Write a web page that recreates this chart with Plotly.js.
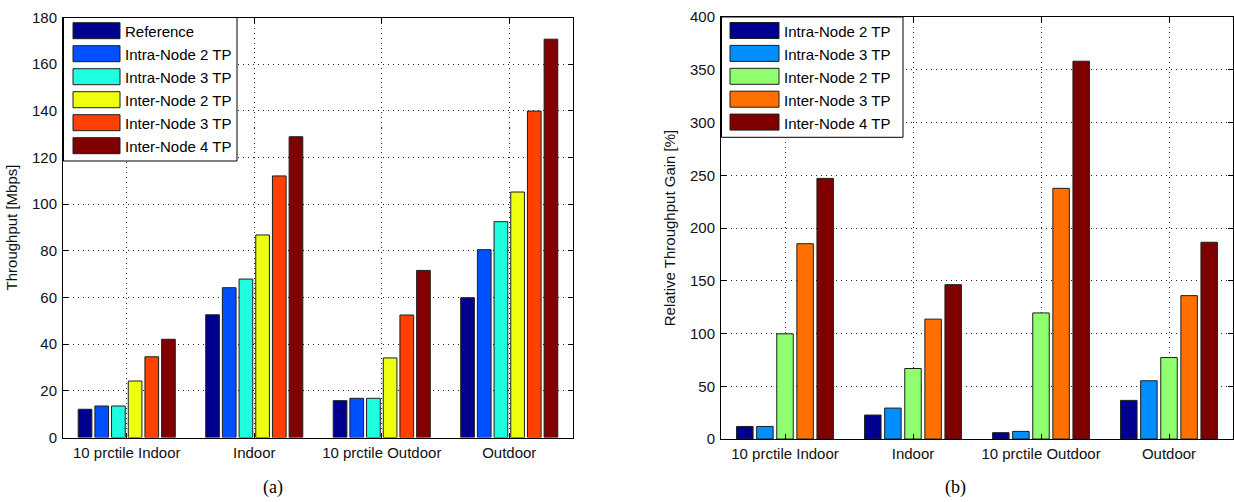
<!DOCTYPE html>
<html>
<head>
<meta charset="utf-8">
<script src="https://cdn.plot.ly/plotly-3.0.1.min.js"></script>
<style>html,body{margin:0;padding:0;background:#fff;}#chart{width:1234px;height:502px;}</style>
</head>
<body>
<div id="chart"></div>
<script>
// ---------- data ----------
var categories = ['10 prctile Indoor', 'Indoor', '10 prctile Outdoor', 'Outdoor'];

// (a) Throughput [Mbps]
var thrNames = ['Reference', 'Intra-Node 2 TP', 'Intra-Node 3 TP', 'Inter-Node 2 TP', 'Inter-Node 3 TP', 'Inter-Node 4 TP'];
var thrColors = ['#00008F', '#0050FF', '#1FFFDF', '#EFFF10', '#FF4000', '#800000'];
var thrReference = [12.1, 52.6, 15.8, 59.9];
var thrIntra2 = [13.5, 64.2, 16.8, 80.5];
var thrIntra3 = [13.5, 67.9, 16.8, 92.5];
var thrInter2 = [24.2, 86.8, 34.1, 105.2];
var thrInter3 = [34.6, 112.1, 52.5, 139.9];
var thrInter4 = [42.1, 128.9, 71.6, 170.7];

// (b) Relative Throughput Gain [%]
var gainNames = ['Intra-Node 2 TP', 'Intra-Node 3 TP', 'Inter-Node 2 TP', 'Inter-Node 3 TP', 'Inter-Node 4 TP'];
var gainColors = ['#000090', '#008FFF', '#8FFF70', '#FF7000', '#800000'];
var gainIntra2 = [11.9, 22.7, 6.0, 36.6];
var gainIntra3 = [11.9, 29.3, 7.2, 55.2];
var gainInter2 = [99.7, 66.8, 119.5, 77.2];
var gainInter3 = [185.1, 113.6, 237.6, 135.9];
var gainInter4 = [247.0, 146.3, 358.1, 186.5];

var leftTicks = [0, 20, 40, 60, 80, 100, 120, 140, 160, 180];
var rightTicks = [0, 50, 100, 150, 200, 250, 300, 350, 400];

// ---------- figure geometry ----------
var W = 1234, H = 502, ML = 63, MR = 1, MT = 17, MB = 63;
function px2x(px) { return (px - ML) / (W - ML - MR); }
function py2y(py) { return (H - MB - py) / (H - MT - MB); }

// pick a condensed face if it is installed, otherwise regular Liberation Sans
function hasFont(name) {
  var c = document.createElement('canvas').getContext('2d');
  c.font = '40px monospace';
  var a = c.measureText('10 prctile Indoor WMmi').width;
  c.font = '40px "' + name + '", monospace';
  var b = c.measureText('10 prctile Indoor WMmi').width;
  return Math.abs(a - b) > 0.5;
}
var NARROW = hasFont('Liberation Sans Narrow');
var FONT = NARROW ? '"Liberation Sans Narrow", Arial Narrow, sans-serif' : 'Liberation Sans, Arial, sans-serif';
var FS = NARROW ? 17 : 15;
var EDGE = 'rgb(30,30,30)';

var thrSeries = [thrReference, thrIntra2, thrIntra3, thrInter2, thrInter3, thrInter4];
var gainSeries = [gainIntra2, gainIntra3, gainInter2, gainInter3, gainInter4];

var traces = [];
thrSeries.forEach(function (vals, i) {
  traces.push({
    type: 'bar', x: categories, y: vals, name: thrNames[i], xaxis: 'x', yaxis: 'y',
    marker: { color: thrColors[i], line: { color: EDGE, width: 1 } },
    showlegend: false, hoverinfo: 'y+name'
  });
});
gainSeries.forEach(function (vals, i) {
  traces.push({
    type: 'bar', x: categories, y: vals, name: gainNames[i], xaxis: 'x2', yaxis: 'y2',
    marker: { color: gainColors[i], line: { color: EDGE, width: 1 } },
    showlegend: false, hoverinfo: 'y+name'
  });
});

// ---------- custom legends (wide swatches like the original) ----------
var shapes = [], annotations = [];
function buildLegend(names, colors, box, swX0, swX1, textX, firstCenter, pitch) {
  shapes.push({
    type: 'rect', xref: 'paper', yref: 'paper', layer: 'above',
    x0: px2x(box[0]), x1: px2x(box[1]), y0: py2y(box[3]), y1: py2y(box[2]),
    fillcolor: '#fff', line: { color: '#000', width: 1 }
  });
  names.forEach(function (n, i) {
    var c = firstCenter + i * pitch;
    shapes.push({
      type: 'rect', xref: 'paper', yref: 'paper', layer: 'above',
      x0: px2x(swX0), x1: px2x(swX1), y0: py2y(c + 8), y1: py2y(c - 8),
      fillcolor: colors[i], line: { color: EDGE, width: 1 }
    });
    annotations.push({
      xref: 'paper', yref: 'paper', x: px2x(textX), y: py2y(c + 1),
      xanchor: 'left', yanchor: 'middle', showarrow: false, text: n,
      font: { family: FONT, size: FS, color: '#000' }
    });
  });
}
buildLegend(thrNames, thrColors, [63.5, 237, 17.5, 161], 73, 120, 123, 30.7, 23);
buildLegend(gainNames, gainColors, [721.5, 903, 17, 137.3], 730, 779, 782, 30.5, 22.9);

annotations.push({
  xref: 'paper', yref: 'paper', x: px2x(273), y: py2y(487), xanchor: 'center', yanchor: 'middle',
  showarrow: false, text: '(a)', font: { family: 'Liberation Serif, Times New Roman, serif', size: 18, color: '#000' }
});
annotations.push({
  xref: 'paper', yref: 'paper', x: px2x(955), y: py2y(487), xanchor: 'center', yanchor: 'middle',
  showarrow: false, text: '(b)', font: { family: 'Liberation Serif, Times New Roman, serif', size: 18, color: '#000' }
});

var gridDash = '1px,4px';
function xAxis(domain, anchor) {
  return {
    domain: domain, anchor: anchor, type: 'category', categoryorder: 'array', categoryarray: categories,
    range: [-0.5, 3.5], showline: true, linecolor: '#000', linewidth: 1, mirror: 'ticks',
    ticks: 'inside', ticklen: 5, tickcolor: '#000', showgrid: true, gridcolor: '#222', griddash: gridDash,
    gridwidth: 1, tickfont: { family: FONT, size: FS, color: '#111' }, ticklabelstandoff: 1,
    zeroline: false, automargin: false, fixedrange: true
  };
}
function yAxis(domain, anchor, range, ticks, title) {
  return {
    domain: domain, anchor: anchor, range: range, tickvals: ticks, ticktext: ticks.map(String),
    showline: true, linecolor: '#000', linewidth: 1, mirror: 'ticks',
    ticks: 'inside', ticklen: 5, tickcolor: '#000', showgrid: true, gridcolor: '#222', griddash: gridDash,
    gridwidth: 1, tickfont: { family: FONT, size: FS, color: '#111' }, ticklabelstandoff: 2,
    zeroline: false, automargin: false, fixedrange: true,
    title: { text: title, font: { family: FONT, size: FS, color: '#111' }, standoff: 10 }
  };
}

var layout = {
  width: W, height: H, margin: { l: ML, r: MR, t: MT, b: MB, pad: 0 },
  paper_bgcolor: '#fff', plot_bgcolor: '#fff', barmode: 'group', bargap: 0.215, bargroupgap: 0.18,
  showlegend: false,
  xaxis: xAxis([0, px2x(573)], 'y'),
  yaxis: yAxis([py2y(437.5), py2y(17.5)], 'x', [0, 180], leftTicks, 'Throughput [Mbps]'),
  xaxis2: xAxis([px2x(721), 1], 'y2'),
  yaxis2: yAxis([0, 1], 'x2', [0, 400], rightTicks, 'Relative Throughput Gain [%]'),
  shapes: shapes, annotations: annotations
};

Plotly.newPlot('chart', traces, layout, { displayModeBar: false, staticPlot: true });
</script>
</body>
</html>
